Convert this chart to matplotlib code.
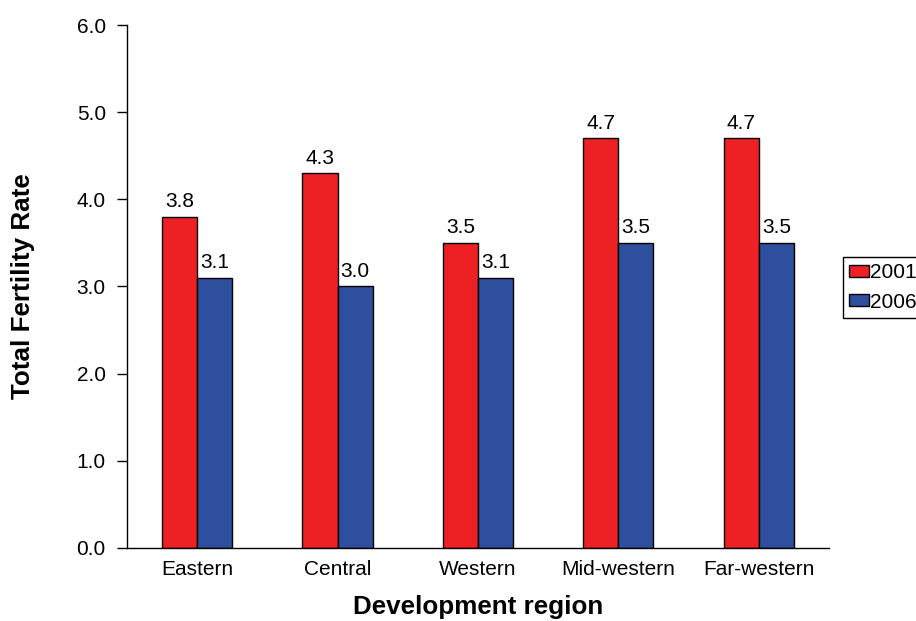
import numpy as np
import matplotlib.pyplot as plt

plt.rcParams['font.family'] = ['Liberation Sans', 'DejaVu Sans']

# 지역별 합계출산율
regions = ['Eastern', 'Central', 'Western', 'Mid-western', 'Far-western']
tfr_2001 = [3.8, 4.3, 3.5, 4.7, 4.7]
tfr_2006 = [3.1, 3.0, 3.1, 3.5, 3.5]
years = ['2001', '2006']
y_ticks = [0.0, 1.0, 2.0, 3.0, 4.0, 5.0, 6.0]

red = '#ED2024'
blue = '#2E4E9E'

fig = plt.figure(figsize=(9.16, 6.21), dpi=100)
ax = fig.add_axes([0.1386, 0.1176, 0.9050 - 0.1386, 0.9597 - 0.1176])

x = np.arange(len(regions))
w = 0.25
b1 = ax.bar(x - w / 2, tfr_2001, w, color=red, edgecolor='black', linewidth=1, label=years[0])
b2 = ax.bar(x + w / 2, tfr_2006, w, color=blue, edgecolor='black', linewidth=1, label=years[1])

for bars, vals in ((b1, tfr_2001), (b2, tfr_2006)):
    for bar, v in zip(bars, vals):
        ax.annotate(f'{v:.1f}', (bar.get_x() + bar.get_width() / 2, v),
                    xytext=(0, 4), textcoords='offset points',
                    ha='center', va='bottom', fontsize=15)

ax.set_xlim(-0.5, 4.5)
ax.set_ylim(0, 6)
ax.set_yticks(y_ticks)
ax.set_yticklabels([f'{t:.1f}' for t in y_ticks])
ax.set_xticks(x)
ax.set_xticklabels(regions)
ax.tick_params(axis='y', labelsize=15, length=7.2, width=1, pad=8)
ax.tick_params(axis='x', labelsize=15, length=0, pad=9)

ax.spines['top'].set_visible(False)
ax.spines['right'].set_visible(False)
ax.spines['left'].set_linewidth(1)
ax.spines['bottom'].set_linewidth(1)

fig.text(23 / 916, 0.539, 'Total Fertility Rate', rotation=90, ha='center', va='center',
         fontsize=18.75, fontweight='bold')
fig.text(478 / 916, 7 / 621, 'Development region', ha='center', va='baseline',
         fontsize=18.75, fontweight='bold')

fig.legend(loc='upper left', bbox_to_anchor=(843 / 916, 1 - 257 / 621), fontsize=15,
           frameon=True, fancybox=False, edgecolor='black', framealpha=1,
           handlelength=0.96, handleheight=0.53, handletextpad=0.05, borderpad=0.3,
           labelspacing=0.5, borderaxespad=0)

fig.savefig('out.png', dpi=100)
